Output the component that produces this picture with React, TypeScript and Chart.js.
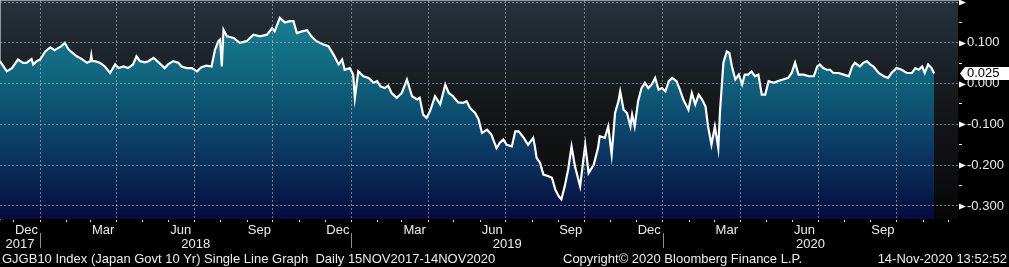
import React, { useEffect, useRef } from 'react';
import { Chart, registerables } from 'chart.js';

Chart.register(...registerables);

// ---------------- data ----------------
const START_DATE = '2017-11-15';
const AXIS_END_DATE = '2020-12-12';

// days since START_DATE
const dayOffsets = [
  0, 8, 14, 21, 27, 31, 37, 39, 43, 47, 53, 59, 64, 68, 72, 76, 80, 84, 90, 96,
  102, 106, 107, 108, 111, 117, 123, 129, 135, 139, 145, 150, 156, 160, 164, 170, 174, 180, 186, 193,
  197, 203, 209, 213, 219, 225, 231, 236, 242, 248, 252, 256, 258, 260, 262, 266, 274, 281, 289, 297,
  305, 313, 319, 322, 328, 334, 340, 344, 348, 354, 360, 365, 371, 379, 385, 391, 397, 401, 404, 410,
  414, 416, 420, 426, 432, 438, 442, 446, 451, 455, 459, 465, 471, 477, 483, 489, 492, 496, 500, 504,
  510, 516, 522, 526, 531, 537, 543, 547, 551, 557, 561, 565, 571, 576, 582, 586, 590, 594, 600, 604,
  608, 614, 619, 625, 627, 629, 633, 637, 643, 647, 651, 655, 658, 662, 666, 670, 674, 680, 686, 690,
  696, 701, 703, 709, 713, 717, 721, 725, 727, 731, 735, 739, 741, 744, 748, 752, 756, 760, 764, 768,
  772, 776, 780, 784, 788, 793, 797, 801, 807, 811, 815, 819, 823, 827, 830, 834, 838, 842, 844, 848,
  852, 855, 858, 862, 866, 870, 873, 877, 881, 885, 889, 893, 897, 901, 907, 912, 918, 924, 928, 932,
  936, 942, 948, 954, 958, 961, 965, 969, 973, 977, 983, 989, 995, 999, 1002, 1008, 1012, 1016, 1020, 1024,
  1030, 1036, 1041, 1045, 1051, 1057, 1063, 1069, 1073, 1077, 1081, 1084, 1088, 1092, 1095,
];

// GJGB10 yield, %
const yields = [
  0.055, 0.030, 0.038, 0.059, 0.051, 0.051, 0.060, 0.047, 0.055, 0.059, 0.079, 0.089, 0.082, 0.087, 0.092, 0.100, 0.085, 0.077, 0.067, 0.060,
  0.051, 0.055, 0.069, 0.055, 0.055, 0.051, 0.042, 0.026, 0.047, 0.038, 0.042, 0.038, 0.047, 0.067, 0.055, 0.052, 0.055, 0.063, 0.052, 0.038,
  0.047, 0.055, 0.051, 0.042, 0.038, 0.038, 0.030, 0.040, 0.044, 0.042, 0.083, 0.104, 0.108, 0.042, 0.132, 0.116, 0.112, 0.100, 0.104, 0.120,
  0.116, 0.120, 0.136, 0.128, 0.161, 0.150, 0.153, 0.153, 0.124, 0.128, 0.131, 0.116, 0.104, 0.096, 0.092, 0.071, 0.047, 0.059, 0.034, 0.038,
  0.022, -0.035, 0.030, 0.018, 0.014, 0.002, 0.006, -0.007, -0.011, -0.005, -0.023, -0.035, -0.023, 0.010, -0.031, -0.039, -0.035, -0.076, -0.084, -0.068,
  -0.031, -0.051, -0.002, -0.023, -0.031, -0.046, -0.047, -0.043, -0.060, -0.072, -0.088, -0.121, -0.113, -0.125, -0.158, -0.145, -0.137, -0.150, -0.154, -0.117,
  -0.117, -0.133, -0.150, -0.133, -0.154, -0.182, -0.194, -0.223, -0.227, -0.231, -0.260, -0.276, -0.284, -0.252, -0.211, -0.154, -0.203, -0.252, -0.150, -0.219,
  -0.199, -0.158, -0.129, -0.133, -0.105, -0.174, -0.072, -0.043, -0.019, -0.064, -0.072, -0.105, -0.076, -0.105, -0.043, -0.011, 0.002, -0.011, -0.002, 0.014,
  -0.015, -0.011, -0.019, 0.006, 0.014, 0.006, -0.015, -0.039, -0.064, -0.023, -0.051, -0.027, -0.039, -0.056, -0.105, -0.150, -0.105, -0.158, -0.068, 0.051,
  0.079, 0.075, 0.042, 0.010, 0.022, -0.002, 0.022, 0.022, 0.030, 0.018, 0.022, -0.027, -0.027, 0.006, 0.002, 0.006, 0.010, 0.014, 0.026, 0.051,
  0.022, 0.022, 0.018, 0.018, 0.042, 0.047, 0.038, 0.034, 0.034, 0.026, 0.026, 0.022, 0.018, 0.042, 0.051, 0.042, 0.051, 0.055, 0.047, 0.042,
  0.026, 0.018, 0.014, 0.026, 0.038, 0.034, 0.026, 0.026, 0.038, 0.034, 0.042, 0.026, 0.047, 0.038, 0.025,
];

const monthLabels = ['Dec', 'Mar', 'Jun', 'Sep', 'Dec', 'Mar', 'Jun', 'Sep', 'Dec', 'Mar', 'Jun', 'Sep'];
const monthLabelDates = [
  '2017-12-16', '2018-03-16', '2018-06-15', '2018-09-15',
  '2018-12-16', '2019-03-16', '2019-06-15', '2019-09-15',
  '2019-12-16', '2020-03-16', '2020-06-15', '2020-09-15',
];
const yearLabels = ['2017', '2018', '2019', '2020'];
const yearBoundaryDates = ['2018-01-01', '2019-01-01', '2020-01-01'];

const yMajorTicks = [0.2, 0.1, 0.0, -0.1, -0.2, -0.3];
const yMinorTicks = [0.15, 0.05, -0.05, -0.15, -0.25];
const yLabelledTicks = [0.1, 0.0, -0.1, -0.2, -0.3];
const Y_MIN = -0.332;
const Y_MAX = 0.205;

const lastValueLabel = '0.025';
const footerLeft = 'GJGB10 Index (Japan Govt 10 Yr) Single Line Graph  Daily 15NOV2017-14NOV2020';
const footerMid = 'Copyright\u00A9 2020 Bloomberg Finance L.P.';
const footerRight = '14-Nov-2020 13:52:52';

// ---------------- helpers ----------------
const DAY = 86400000;
const parseDate = (s: string) => {
  const [y, m, d] = s.split('-').map(Number);
  return Date.UTC(y, m - 1, d);
};
const START_MS = parseDate(START_DATE);
const dayOf = (s: string) => Math.round((parseDate(s) - START_MS) / DAY);
const X_MAX = dayOf(AXIS_END_DATE);

const monthStarts: number[] = [];
const quarterStarts = new Set<number>();
for (let y = 2017; y <= 2020; y++) {
  for (let m = 0; m < 12; m++) {
    const v = Math.round((Date.UTC(y, m, 1) - START_MS) / DAY);
    if (v > 0 && v < X_MAX) {
      monthStarts.push(v);
      if (m % 3 === 0) quarterStarts.add(v);
    }
  }
}
const monthLabelDays = monthLabelDates.map(dayOf);
const yearBounds = [0, ...yearBoundaryDates.map(dayOf), X_MAX];
const yearCenters = yearLabels.map((_, i) => (yearBounds[i] + yearBounds[i + 1]) / 2);

const FONT = '"Liberation Sans", Arial, sans-serif';
const TEXT = '#ececec';
const GRID = 'rgba(190,200,210,0.55)';
const isMajor = (v: number) => yMajorTicks.some((t) => Math.abs(t - v) < 1e-9);
const isLabelled = (v: number) => yLabelledTicks.some((t) => Math.abs(t - v) < 1e-9);

const zeroPad = (s: any) => {
  s.paddingTop = 0;
  s.paddingBottom = 0;
  s.paddingLeft = 0;
  s.paddingRight = 0;
};

const decorPlugin = {
  id: 'decor',
  beforeDraw(chart: any) {
    const { ctx, chartArea: a } = chart;
    ctx.save();
    const g = ctx.createLinearGradient(0, a.top, 0, a.bottom);
    g.addColorStop(0, '#26323c');
    g.addColorStop(0.45, '#15191c');
    g.addColorStop(1, '#070707');
    ctx.fillStyle = g;
    ctx.fillRect(a.left, a.top, a.right - a.left, a.bottom - a.top);
    ctx.restore();
  },
  afterDraw(chart: any) {
    const { ctx, chartArea: a, scales } = chart;
    const ys = scales.y;
    const xs = scales.x;
    ctx.save();
    // arrow markers on major y ticks
    ctx.fillStyle = '#ffffff';
    yMajorTicks.forEach((v) => {
      const py = Math.round(ys.getPixelForValue(v)) + 0.5;
      ctx.beginPath();
      ctx.moveTo(a.right + 1, py - 3);
      ctx.lineTo(a.right + 8, py);
      ctx.lineTo(a.right + 1, py + 3);
      ctx.closePath();
      ctx.fill();
    });
    // year separators
    ctx.strokeStyle = '#8c8c8c';
    ctx.lineWidth = 1;
    yearBoundaryDates.map(dayOf).forEach((d) => {
      const px = Math.round(xs.getPixelForValue(d)) + 0.5;
      ctx.beginPath();
      ctx.moveTo(px, a.bottom + 14);
      ctx.lineTo(px, a.bottom + 29);
      ctx.stroke();
    });
    // last value box
    const lastV = yields[yields.length - 1];
    const ly = ys.getPixelForValue(lastV);
    const bx = a.right + 7;
    ctx.fillStyle = '#ffffff';
    ctx.beginPath();
    ctx.moveTo(a.right + 2, ly);
    ctx.lineTo(bx, ly - 6.5);
    ctx.lineTo(chart.width, ly - 6.5);
    ctx.lineTo(chart.width, ly + 6.5);
    ctx.lineTo(bx, ly + 6.5);
    ctx.closePath();
    ctx.fill();
    ctx.fillStyle = '#000000';
    ctx.font = `13px ${FONT}`;
    ctx.textBaseline = 'middle';
    ctx.textAlign = 'left';
    ctx.fillText(lastValueLabel, bx + 2, ly + 0.5);
    ctx.restore();
  },
};

export default function App() {
  const ref = useRef<HTMLCanvasElement | null>(null);

  useEffect(() => {
    document.body.style.margin = '0';
    document.body.style.background = '#000';
    const canvas = ref.current;
    if (!canvas) return;
    const points = dayOffsets.map((d, i) => ({ x: d, y: yields[i] }));

    const chart = new Chart(canvas, {
      type: 'line',
      data: {
        datasets: [
          {
            data: points,
            borderColor: '#ffffff',
            borderWidth: 2.2,
            pointRadius: 0,
            tension: 0,
            fill: 'start',
            backgroundColor: (c: any) => {
              const { chart } = c;
              const a = chart.chartArea;
              if (!a) return '#10637c';
              const g = chart.ctx.createLinearGradient(0, a.top, 0, a.bottom);
              g.addColorStop(0, '#1a8798');
              g.addColorStop(0.35, '#10647d');
              g.addColorStop(0.68, '#0b3963');
              g.addColorStop(1, '#060b3c');
              return g;
            },
          },
        ],
      },
      options: {
        responsive: false,
        maintainAspectRatio: false,
        animation: false,
        events: [],
        layout: { padding: 0 },
        plugins: { legend: { display: false }, tooltip: { enabled: false } },
        scales: {
          x: {
            type: 'linear',
            position: 'bottom',
            min: 0,
            max: X_MAX,
            afterBuildTicks: (s: any) => {
              s.ticks = monthStarts.map((v) => ({ value: v }));
            },
            ticks: { display: false },
            grid: {
              z: 1,
              color: (c: any) => (c.tick && quarterStarts.has(c.tick.value) ? GRID : 'rgba(0,0,0,0)'),
              lineWidth: 1,
              drawTicks: true,
              tickLength: 3,
              tickColor: '#d8d8d8',
              tickWidth: 1,
            },
            border: { display: true, color: '#ffffff', width: 1, dash: [2, 2] },
            afterFit: (s: any) => {
              s.height = 4;
              zeroPad(s);
            },
          },
          xm: {
            type: 'linear',
            position: 'bottom',
            min: 0,
            max: X_MAX,
            afterBuildTicks: (s: any) => {
              s.ticks = monthLabelDays.map((v) => ({ value: v }));
            },
            ticks: {
              color: TEXT,
              font: { family: FONT, size: 13 },
              padding: 0,
              autoSkip: false,
              maxRotation: 0,
              callback: (_v: any, i: number) => monthLabels[i],
            },
            grid: { display: false, drawTicks: false },
            border: { display: false },
            afterFit: (s: any) => {
              s.height = 14;
              zeroPad(s);
            },
          },
          xy: {
            type: 'linear',
            position: 'bottom',
            min: 0,
            max: X_MAX,
            afterBuildTicks: (s: any) => {
              s.ticks = yearCenters.map((v) => ({ value: v }));
            },
            ticks: {
              color: TEXT,
              font: { family: FONT, size: 13 },
              padding: 0,
              autoSkip: false,
              maxRotation: 0,
              callback: (_v: any, i: number) => yearLabels[i],
            },
            grid: { display: false, drawTicks: false },
            border: { display: false },
            afterFit: (s: any) => {
              s.height = 14;
              zeroPad(s);
            },
          },
          y: {
            type: 'linear',
            position: 'right',
            min: Y_MIN,
            max: Y_MAX,
            afterBuildTicks: (s: any) => {
              s.ticks = [...yMajorTicks, ...yMinorTicks].sort((p, q) => p - q).map((v) => ({ value: v }));
            },
            ticks: {
              color: TEXT,
              font: { family: FONT, size: 13 },
              padding: 5,
              autoSkip: false,
              callback: (v: any) => (isLabelled(v) ? (Math.abs(v) < 1e-9 ? 0 : v).toFixed(3) : ''),
            },
            grid: {
              z: 1,
              color: (c: any) => (c.tick && isMajor(c.tick.value) ? GRID : 'rgba(0,0,0,0)'),
              drawTicks: true,
              tickLength: 4,
              tickColor: '#ffffff',
              tickWidth: 1,
            },
            border: { display: true, color: '#ffffff', width: 1, dash: [2, 2] },
            afterFit: (s: any) => {
              s.width = 51;
              zeroPad(s);
            },
          },
        },
      } as any,
      plugins: [decorPlugin],
    });
    return () => chart.destroy();
  }, []);

  const footStyle: React.CSSProperties = { position: 'absolute', top: 0, whiteSpace: 'pre' };
  return (
    <div style={{ position: 'relative', width: 1009, height: 267, background: '#000', overflow: 'hidden' }}>
      <canvas ref={ref} width={1009} height={251} style={{ display: 'block' }} />
      <div
        style={{
          position: 'absolute',
          top: 250,
          left: 0,
          width: 1009,
          height: 17,
          fontFamily: FONT,
          fontSize: 13,
          lineHeight: '17px',
          color: TEXT,
        }}
      >
        <span style={{ ...footStyle, left: 2 }}>{footerLeft}</span>
        <span style={{ ...footStyle, left: 563 }}>{footerMid}</span>
        <span style={{ ...footStyle, right: 2 }}>{footerRight}</span>
      </div>
    </div>
  );
}
